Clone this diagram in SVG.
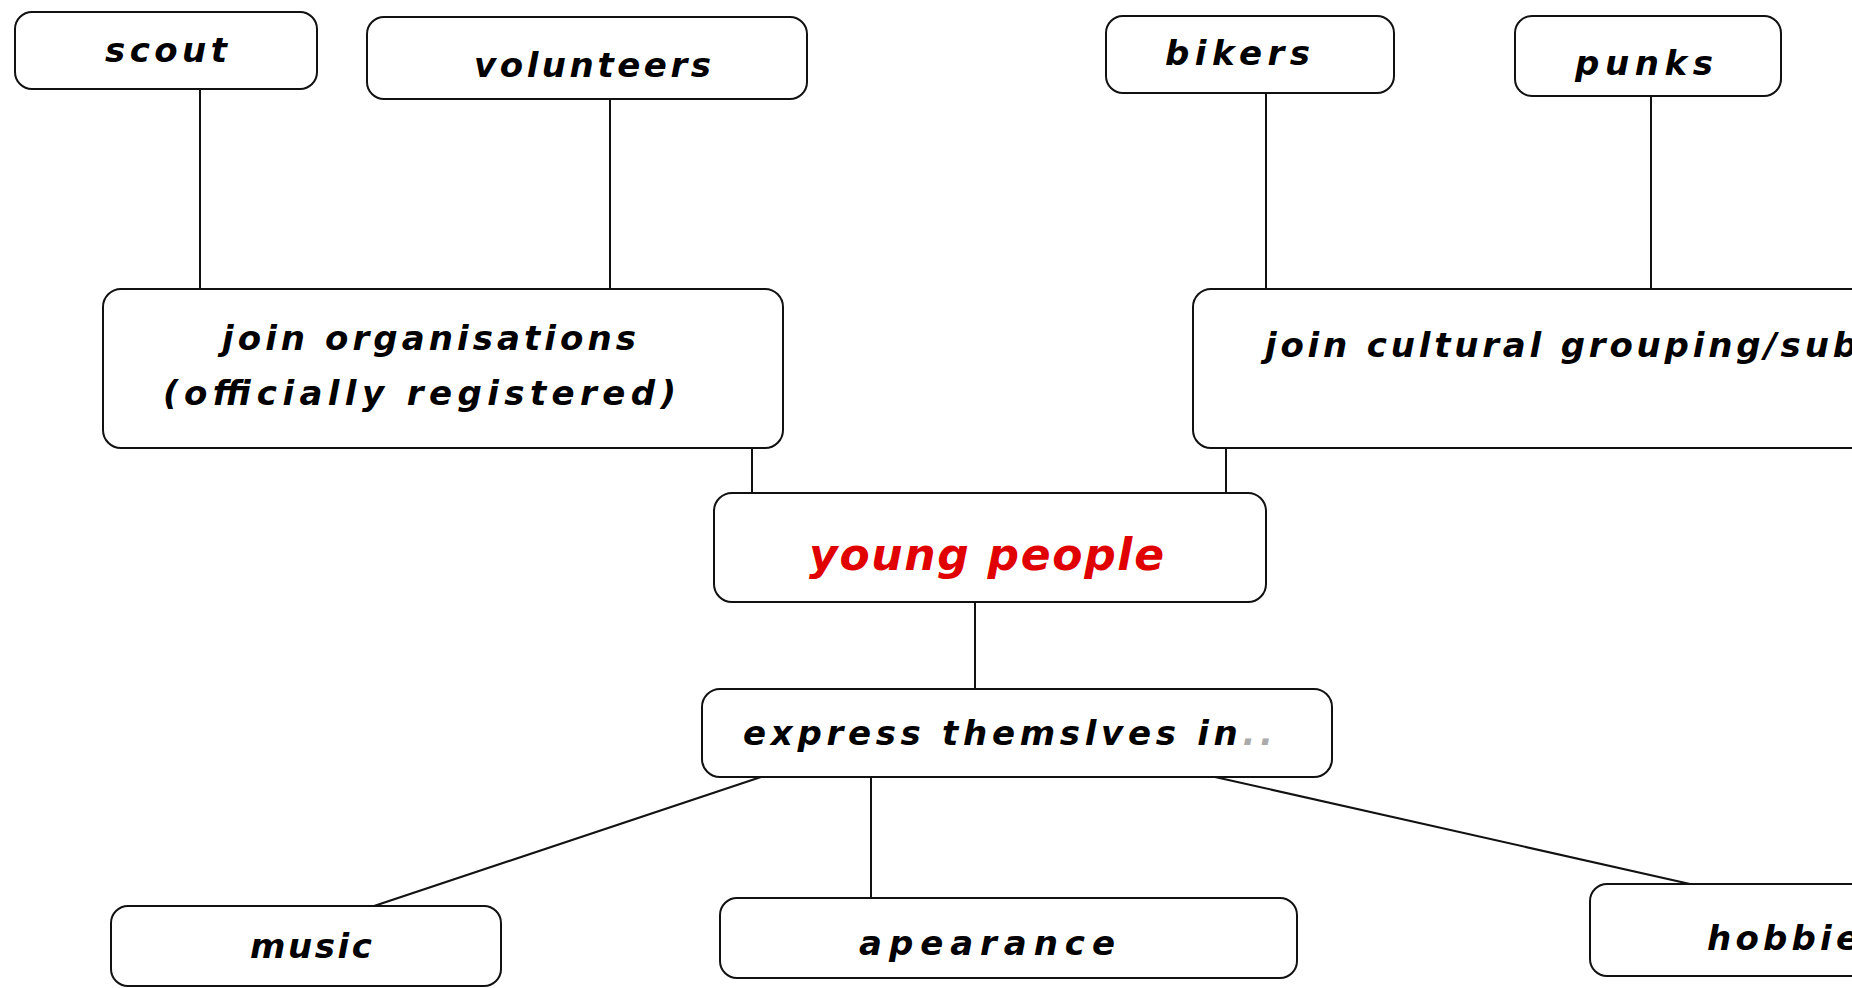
<svg xmlns="http://www.w3.org/2000/svg" width="1852" height="988" viewBox="0 0 1852 988">
<style>
.box{fill:#fff;stroke:#111;stroke-width:2}
.lbl{font-family:"DejaVu Sans","Liberation Sans",sans-serif;font-weight:bold;font-style:italic;font-size:34px;fill:#000}
.red{fill:#e00000;font-size:44px}
.dots{fill:#aaa}
#connectors line{stroke:#111;stroke-width:2}
</style>
<rect width="1852" height="988" fill="#fff"/>
<g id="connectors">
<line x1="200" y1="89" x2="200" y2="289"/>
<line x1="610" y1="99" x2="610" y2="289"/>
<line x1="1266" y1="93" x2="1266" y2="289"/>
<line x1="1651" y1="96" x2="1651" y2="289"/>
<line x1="752" y1="448" x2="752" y2="493"/>
<line x1="1226" y1="448" x2="1226" y2="493"/>
<line x1="975" y1="602" x2="975" y2="689"/>
<line x1="761" y1="777" x2="374" y2="906"/>
<line x1="871" y1="777" x2="871" y2="898"/>
<line x1="1215" y1="777" x2="1690" y2="884"/>
</g>
<g id="scout"><rect class="box" x="15" y="12" width="302" height="77" rx="17"/><text class="lbl" x="105" y="62" textLength="122" lengthAdjust="spacing">scout</text></g>
<g id="volunteers"><rect class="box" x="367" y="17" width="440" height="82" rx="17"/><text class="lbl" x="474" y="77" textLength="237" lengthAdjust="spacing">volunteers</text></g>
<g id="bikers"><rect class="box" x="1106" y="16" width="288" height="77" rx="17"/><text class="lbl" x="1165" y="65" textLength="145" lengthAdjust="spacing">bikers</text></g>
<g id="punks"><rect class="box" x="1515" y="16" width="266" height="80" rx="17"/><text class="lbl" x="1575" y="75" textLength="138" lengthAdjust="spacing">punks</text></g>
<g id="join-organisations"><rect class="box" x="103" y="289" width="680" height="159" rx="18"/><text class="lbl" x="222" y="350" textLength="414" lengthAdjust="spacing">join organisations</text><text class="lbl" x="163" y="405" textLength="513" lengthAdjust="spacing">(officially registered)</text></g>
<g id="join-cultural"><rect class="box" x="1193" y="289" width="700" height="159" rx="18"/><text class="lbl" x="1265" y="357" textLength="592" lengthAdjust="spacing">join cultural grouping/sub</text></g>
<g id="young-people"><rect class="box" x="714" y="493" width="552" height="109" rx="18"/><text class="lbl red" x="809" y="570" textLength="355" lengthAdjust="spacing">young people</text></g>
<g id="express"><rect class="box" x="702" y="689" width="630" height="88" rx="18"/><text class="lbl" x="743" y="745" textLength="530" lengthAdjust="spacing">express themslves in<tspan class="dots">..</tspan></text></g>
<g id="music"><rect class="box" x="111" y="906" width="390" height="80" rx="17"/><text class="lbl" x="250" y="958" textLength="122" lengthAdjust="spacing">music</text></g>
<g id="apearance"><rect class="box" x="720" y="898" width="577" height="80" rx="17"/><text class="lbl" x="859" y="955" textLength="256" lengthAdjust="spacing">apearance</text></g>
<g id="hobbies"><rect class="box" x="1590" y="884" width="300" height="92" rx="17"/><text class="lbl" x="1707" y="950" textLength="152" lengthAdjust="spacing">hobbie</text></g>
</svg>
